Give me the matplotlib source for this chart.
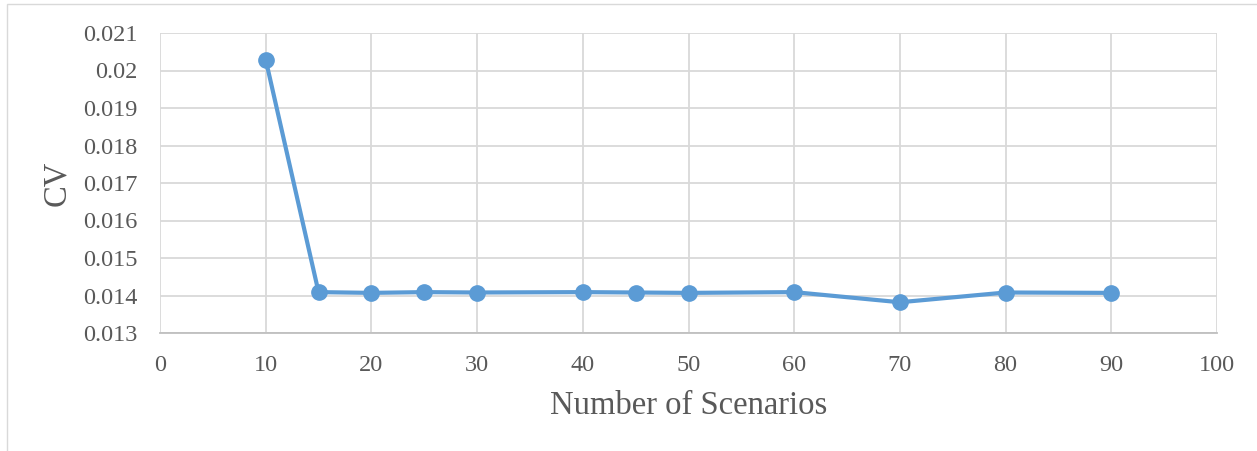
import matplotlib.pyplot as plt
from matplotlib.patches import Rectangle

scenarios = [10, 15, 20, 25, 30, 40, 45, 50, 60, 70, 80, 90]
cv = [0.02029, 0.01409, 0.01407, 0.01409, 0.01408, 0.01409, 0.01408,
      0.01407, 0.01409, 0.01382, 0.01408, 0.01407]

plt.rcParams['font.family'] = ['Liberation Serif', 'DejaVu Serif']

fig = plt.figure(figsize=(12.57, 4.51), dpi=100)
ax = fig.add_axes([160 / 1257, 1 - 333 / 451, (1217 - 160) / 1257, 300 / 451])

ax.plot(scenarios, cv, '-o', color='#5B9BD5', linewidth=3, markersize=11, zorder=3)

ax.set_xlim(0, 100)
ax.set_ylim(0.013, 0.021)
ax.set_xticks(range(0, 101, 10))
ax.set_yticks([0.013 + 0.001 * i for i in range(9)])
ax.set_yticklabels(['0.013', '0.014', '0.015', '0.016', '0.017', '0.018',
                    '0.019', '0.02', '0.021'])
ax.grid(True, color='#D9D9D9', linewidth=1.3)
ax.set_axisbelow(True)
for s in ['top', 'right', 'left']:
    ax.spines[s].set_visible(False)
ax.spines['bottom'].set_color('#BFBFBF')
ax.spines['bottom'].set_linewidth(1.3)
ax.tick_params(length=0, labelsize=17.5, colors='#595959')
ax.tick_params(axis='x', pad=16)
ax.tick_params(axis='y', pad=16)
ax.set_xlabel('Number of Scenarios', fontsize=23.5, color='#595959', labelpad=10)
ax.set_ylabel('CV', fontsize=23.5, color='#595959', labelpad=8)

fig.patches.append(Rectangle((7 / 1257, -0.05), 1.1, 1 - 4 / 451 + 0.05,
                             transform=fig.transFigure, fill=False,
                             edgecolor='#D9D9D9', linewidth=1))

fig.savefig('out.png', dpi=100)
